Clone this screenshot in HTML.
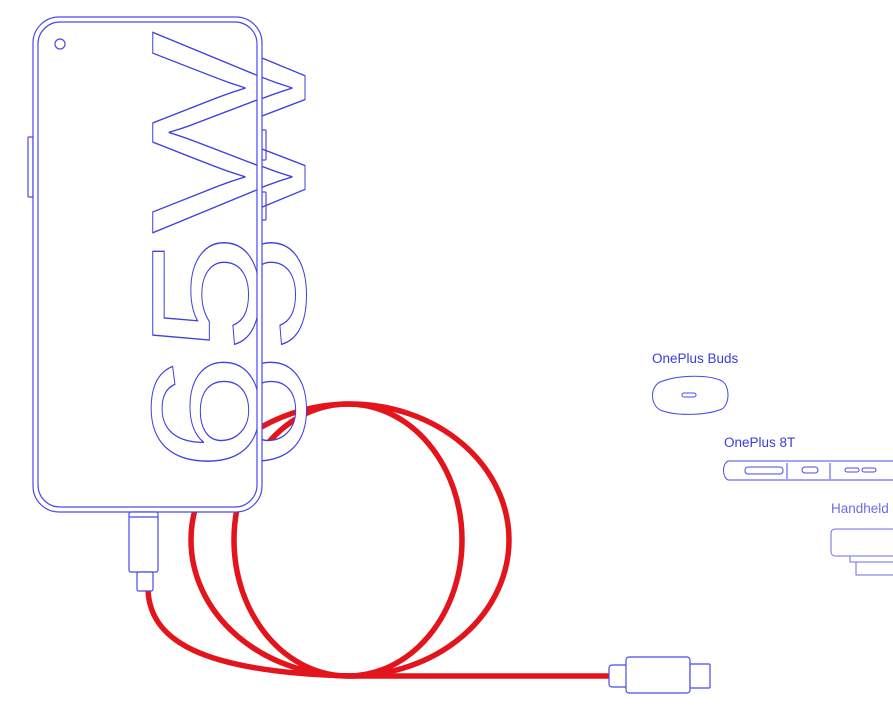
<!DOCTYPE html>
<html><head><style>
html,body{margin:0;padding:0;background:#fff;width:893px;height:712px;overflow:hidden}
svg{display:block}
.t{font-family:"Liberation Sans",sans-serif;font-size:13.5px;fill:#3b3be0}
</style></head><body>
<svg width="893" height="712" viewBox="0 0 893 712" xmlns="http://www.w3.org/2000/svg">
<defs>
<clipPath id="inside"><rect x="38" y="22" width="219" height="485" rx="22"/></clipPath>
<clipPath id="outside"><rect x="262" y="0" width="60" height="500"/></clipPath>
</defs>
<g fill="none" stroke="#e3141b" stroke-width="5.5">
<ellipse cx="348" cy="540" rx="114" ry="136"/>
<ellipse cx="350" cy="540" rx="159" ry="136"/>
<path d="M148 590 C150 640 200 672 350 676 L612 676"/>
</g>
<g clip-path="url(#outside)" fill="#fff" stroke="#4040e0" stroke-width="1">
<text transform="translate(305,472) rotate(-90) scale(1.4,1)" font-family="Liberation Sans,sans-serif" font-size="153">65W</text>
</g>
<g fill="none" stroke="#4a4ae8" stroke-width="1.2">
<rect x="28" y="137" width="5" height="60" rx="1" fill="#fff"/>
<rect x="261" y="130" width="5" height="30" rx="1"/>
<rect x="261" y="192" width="5" height="28" rx="1"/>
<rect x="33" y="17" width="229" height="495" rx="26" fill="#fff"/>
<rect x="38" y="22" width="219" height="485" rx="22"/>
<circle cx="60" cy="44" r="5"/>
<rect x="129" y="512" width="29" height="60" rx="2" fill="#fff"/>
<line x1="129" y1="517" x2="158" y2="517"/>
<rect x="137" y="572" width="16" height="19" rx="2" fill="#fff"/>
</g>
<g clip-path="url(#inside)" fill="none" stroke="#4040e0" stroke-width="1">
<text transform="translate(258,472) rotate(-90) scale(1.4,1)" font-family="Liberation Sans,sans-serif" font-size="153">65W</text>
</g>
<g fill="#fff" stroke="#4a4ae8" stroke-width="1.2">
<rect x="609" y="665" width="20" height="22" rx="3"/>
<rect x="626" y="657" width="64" height="36" rx="3"/>
<rect x="690" y="664" width="20" height="24" rx="1"/>
</g>
<text class="t" x="652" y="363">OnePlus Buds</text>
<g fill="none" stroke="#4a4ae8" stroke-width="1">
<path d="M660 382 C680 374 710 375 722 381 C730 386 730 404 722 409 C705 416 675 416 660 410 C650 404 650 387 660 382Z"/>
<rect x="682" y="393" width="14" height="4" rx="2"/>
</g>
<text class="t" x="724" y="447">OnePlus 8T</text>
<g fill="none" stroke="#4a4ae8" stroke-width="1">
<path d="M728 461 L893 461 M728 480 L893 480 M728 461 C722 464 722 477 728 480"/>
<rect x="745" y="467" width="38" height="7" rx="3"/>
<line x1="787" y1="463" x2="787" y2="479"/><line x1="830" y1="463" x2="830" y2="479"/>
<rect x="802" y="467" width="16" height="6" rx="3"/>
<rect x="845" y="468" width="14" height="4" rx="2"/><rect x="862" y="468" width="14" height="4" rx="2"/>
</g>
<text class="t" x="831" y="513" style="fill:#6b6be8">Handheld</text>
<g fill="none" stroke="#6b6be8" stroke-width="1">
<rect x="831" y="529" width="70" height="27" rx="4"/>
<path d="M850 556 L850 562 L893 562 M856 562 L856 575 L893 575"/>
</g>
</svg>
</body></html>
